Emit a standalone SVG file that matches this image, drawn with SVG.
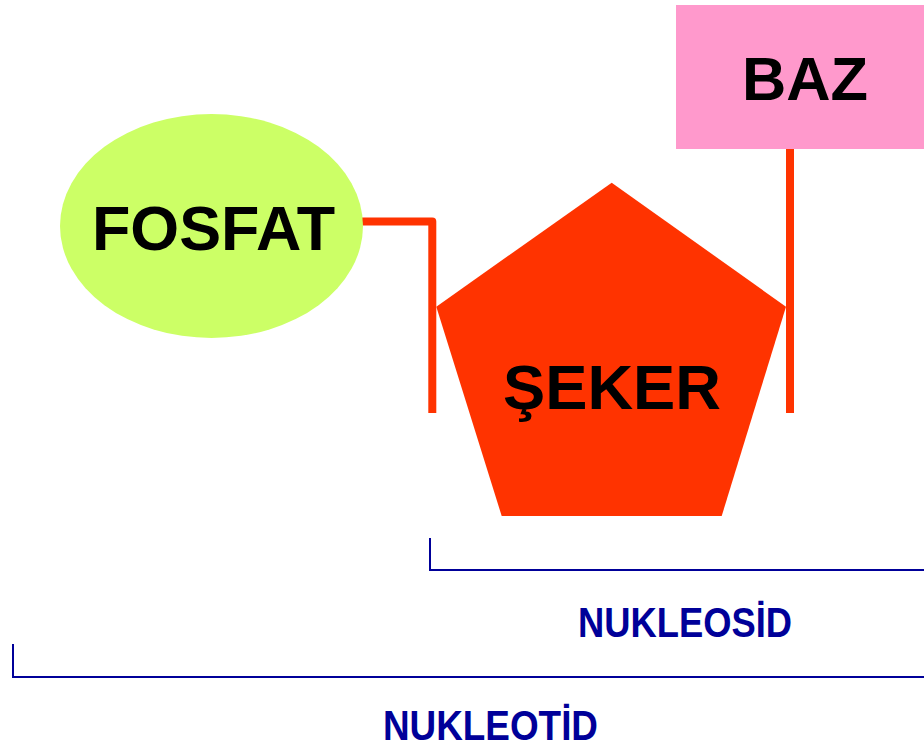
<svg xmlns="http://www.w3.org/2000/svg" width="924" height="748" viewBox="0 0 924 748">
<style>
.lbl{font-family:"Liberation Sans",Arial,sans-serif;font-weight:bold;fill:#000;}
.blue{font-family:"Liberation Sans",Arial,sans-serif;font-weight:bold;fill:#000099;}
.bond{fill:none;stroke:#FF3300;stroke-width:8;}
.brk{fill:none;stroke:#000099;stroke-width:2;}
</style>
<rect width="924" height="748" fill="#fff"/>
<g id="connectors">
<polyline class="bond" points="362,221.5 432.3,221.5 432.3,413" stroke-linejoin="round"/>
<line class="bond" x1="790" y1="148" x2="790" y2="413"/>
<polyline class="brk" points="430,538 430,570 924,570"/>
<polyline class="brk" points="13,644 13,677 924,677"/>
</g>
<g id="fosfat">
<ellipse cx="211.5" cy="226" rx="151.5" ry="112" fill="#CCFF66"/>
<text class="lbl" x="92" y="250" font-size="63" textLength="243" lengthAdjust="spacingAndGlyphs">FOSFAT</text>
</g>
<g id="seker">
<polygon points="611.7,182.7 786,306.7 721.7,516 501.7,516 436.3,306.7" fill="#FF3300"/>
<text class="lbl" x="503" y="409" font-size="63" textLength="218" lengthAdjust="spacingAndGlyphs">ŞEKER</text>
</g>
<g id="baz">
<rect x="676" y="5" width="248" height="144" fill="#FF99CC"/>
<text class="lbl" x="742" y="100" font-size="62" textLength="126" lengthAdjust="spacingAndGlyphs">BAZ</text>
</g>
<g id="nukleosid">
<text class="blue" x="578" y="637" font-size="42" textLength="214" lengthAdjust="spacingAndGlyphs">NUKLEOSİD</text>
</g>
<g id="nukleotid">
<text class="blue" x="383" y="740" font-size="42" textLength="215" lengthAdjust="spacingAndGlyphs">NUKLEOTİD</text>
</g>
</svg>
